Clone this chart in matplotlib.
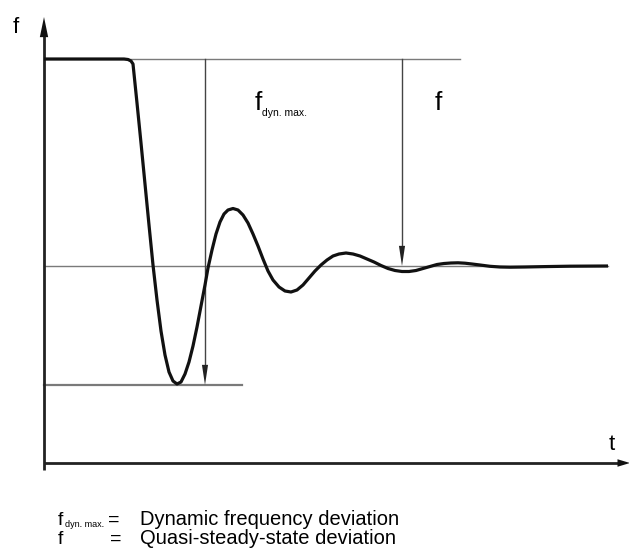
import matplotlib
matplotlib.use("Agg")
import matplotlib.pyplot as plt

plt.rcParams["font.family"] = ["Liberation Sans", "DejaVu Sans"]

t = [44, 124, 128, 131, 133, 137, 141, 145, 149, 153, 157, 161, 165, 169, 173, 177,
     181, 185, 189, 193, 197, 201, 205, 208, 212, 216, 220, 224, 228, 233, 238, 243,
     248, 253, 258, 263, 268, 273, 279, 285, 291, 297, 303, 309, 315, 321, 327, 333,
     339, 346, 353, 360, 367, 374, 381, 388, 395, 402, 409, 416, 423, 430, 437, 444,
     451, 458, 465, 472, 480, 490, 500, 510, 525, 545, 570, 608]
y = [59, 59, 59.5, 61, 64, 103, 143, 184, 225, 265, 300, 331, 355, 372, 381, 384,
     382, 374, 362, 346, 327, 306, 285, 268, 250, 234, 222, 214, 210, 208.5, 210, 215,
     223, 234, 246, 259, 271, 280, 287, 291, 292, 290, 285, 278, 271, 265, 260, 256,
     254, 253, 254, 256, 259, 262, 265.5, 268.5, 270.5, 271.5, 271.5, 270.5, 268.5, 266.5, 264.5, 263.5,
     263, 262.8, 263.2, 264, 265, 266.3, 267, 267.2, 267, 266.6, 266.2, 266]

y_top = 59
y_steady = 266
y_min = 385
top_end = 460
steady_end = 608
min_end = 242

t_dyn = 205
t_qs = 402

fig = plt.figure(figsize=(6.29, 5.49), dpi=100)
ax = fig.add_axes([0, 0, 1, 1])
ax.set_xlim(0, 629)
ax.set_ylim(549, 0)
ax.axis("off")

thin = "#7a7a7a"
ax.plot([44, top_end], [y_top, y_top], color=thin, lw=1.0)
ax.plot([44, steady_end], [y_steady, y_steady], color=thin, lw=1.0)
ax.plot([44, min_end], [y_min, y_min], color=thin, lw=1.6)

# axes with arrows
ax.plot([44, 44], [470, 36], color="#222222", lw=2.0, solid_capstyle="butt")
ax.annotate("", xy=(44, 17), xytext=(44, 40), annotation_clip=False,
            arrowprops=dict(arrowstyle="-|>,head_length=1.45,head_width=0.3",
                            color="#111111", lw=0, shrinkA=0, shrinkB=0, mutation_scale=10))
ax.plot([44, 622], [463, 463], color="#222222", lw=2.0, solid_capstyle="butt")
ax.annotate("", xy=(630, 463), xytext=(612, 463), annotation_clip=False,
            arrowprops=dict(arrowstyle="-|>,head_length=0.9,head_width=0.27",
                            color="#111111", lw=0, shrinkA=0, shrinkB=0, mutation_scale=10))

# deviation arrows
for tx, y_end in [(t_dyn, y_min), (t_qs, y_steady)]:
    ax.plot([tx, tx], [y_top, y_end - 15], color="#444444", lw=1.0)
    ax.annotate("", xy=(tx, y_end), xytext=(tx, y_end - 25),
                arrowprops=dict(arrowstyle="-|>,head_length=1.45,head_width=0.22",
                                color="#222222", lw=0, shrinkA=0, shrinkB=0,
                                mutation_scale=10))

ax.plot(t, y, color="#111111", lw=2.3, solid_joinstyle="round", solid_capstyle="butt")

# labels
ax.text(13, 33, "f", fontsize=16, ha="left", va="baseline")
ax.text(609, 450, "t", fontsize=16, ha="left", va="baseline")
ax.text(255, 110, "f", fontsize=19, ha="left", va="baseline")
ax.text(262, 116, "dyn. max.", fontsize=7.5, ha="left", va="baseline")
ax.text(435, 110, "f", fontsize=19, ha="left", va="baseline")

# legend text
ax.text(58, 525, "f", fontsize=14, ha="left", va="baseline")
ax.text(65, 527, "dyn. max.", fontsize=6.5, ha="left", va="baseline")
ax.text(108, 525, "=", fontsize=14, ha="left", va="baseline")
ax.text(140, 525, "Dynamic frequency deviation", fontsize=14.5, ha="left", va="baseline")
ax.text(58, 544, "f", fontsize=14, ha="left", va="baseline")
ax.text(110, 544, "=", fontsize=14, ha="left", va="baseline")
ax.text(140, 544, "Quasi-steady-state deviation", fontsize=14.5, ha="left", va="baseline")

fig.savefig("out.png", dpi=100)
